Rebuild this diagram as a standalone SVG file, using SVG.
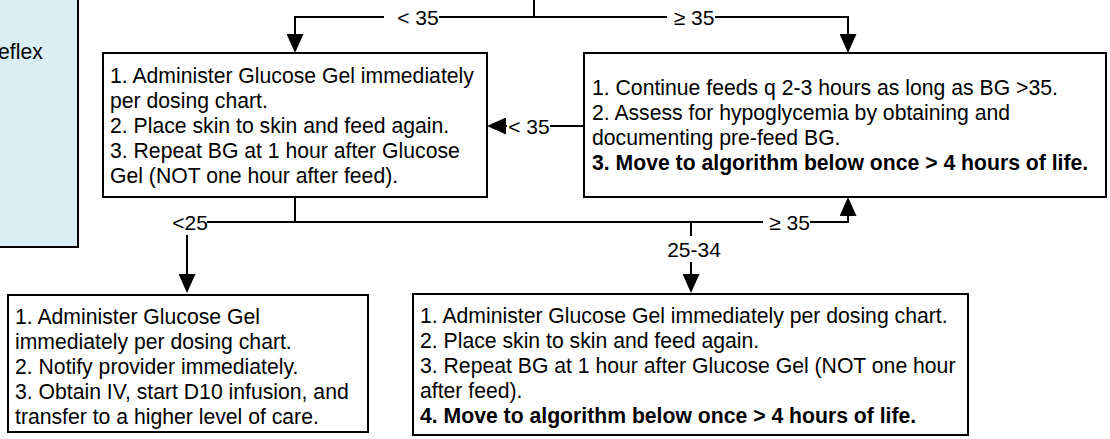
<svg xmlns="http://www.w3.org/2000/svg" width="1110" height="439" viewBox="0 0 1110 439">
  <style>
    .box { fill: #ffffff; stroke: #000000; stroke-width: 2; }
    .note { fill: #DAEEF3; stroke: #000000; stroke-width: 2; }
    .conn { fill: none; stroke: #000000; stroke-width: 2; }
    .bg { fill: #ffffff; stroke: none; }
    .t { font-family: "Liberation Sans", Arial, sans-serif; font-size: 21.2px; fill: #000000; }
    .b { font-weight: bold; }
    .lbl { text-anchor: middle; font-size: 21px; }
  </style>
  <defs>
    <marker id="arrow" viewBox="0 0 19 17" refX="16" refY="8.5" markerWidth="19" markerHeight="17" orient="auto" markerUnits="userSpaceOnUse">
      <path d="M0,0 L19,8.5 L0,17 z" fill="#000000"/>
    </marker>
  </defs>

  <!-- side note panel, partly off-canvas -->
  <g id="note">
    <rect class="note" x="-10" y="-10" width="88" height="257"/>
    <text class="t" x="-2" y="59">eflex</text>
  </g>

  <!-- BG below 35: gel and re-check -->
  <g id="gel-recheck">
    <rect class="box" x="103" y="53" width="384" height="144"/>
    <text class="t" x="110" y="82.5">
      <tspan x="110" y="82.5">1. Administer Glucose Gel immediately</tspan>
      <tspan x="110" y="107.5">per dosing chart.</tspan>
      <tspan x="110" y="132.5">2. Place skin to skin and feed again.</tspan>
      <tspan x="110" y="157.5">3. Repeat BG at 1 hour after Glucose</tspan>
      <tspan x="110" y="182.5">Gel (NOT one hour after feed).</tspan>
    </text>
  </g>

  <!-- BG at or above 35: continue feeds -->
  <g id="continue-feeds">
    <rect class="box" x="584" y="53" width="522" height="144"/>
    <text class="t" x="592" y="95">
      <tspan x="592" y="95">1. Continue feeds q 2-3 hours as long as BG &gt;35.</tspan>
      <tspan x="592" y="120">2. Assess for hypoglycemia by obtaining and</tspan>
      <tspan x="592" y="145">documenting pre-feed BG.</tspan>
      <tspan class="b" x="592" y="170">3. Move to algorithm below once &gt; 4 hours of life.</tspan>
    </text>
  </g>

  <!-- BG below 25: escalate care -->
  <g id="escalate">
    <rect class="box" x="8" y="295" width="360" height="137"/>
    <text class="t" x="15" y="324">
      <tspan x="15" y="324">1. Administer Glucose Gel</tspan>
      <tspan x="15" y="349">immediately per dosing chart.</tspan>
      <tspan x="15" y="374">2. Notify provider immediately.</tspan>
      <tspan x="15" y="399">3. Obtain IV, start D10 infusion, and</tspan>
      <tspan x="15" y="424">transfer to a higher level of care.</tspan>
    </text>
  </g>

  <!-- BG 25-34: second gel dose -->
  <g id="second-gel">
    <rect class="box" x="413" y="294" width="555" height="141"/>
    <text class="t" x="420" y="323">
      <tspan x="420" y="323">1. Administer Glucose Gel immediately per dosing chart.</tspan>
      <tspan x="420" y="348">2. Place skin to skin and feed again.</tspan>
      <tspan x="420" y="373">3. Repeat BG at 1 hour after Glucose Gel (NOT one hour</tspan>
      <tspan x="420" y="398">after feed).</tspan>
      <tspan class="b" x="420" y="423">4. Move to algorithm below once &gt; 4 hours of life.</tspan>
    </text>
  </g>

  <!-- connectors and their labels -->
  <g id="connectors">
    <path class="conn" d="M534,0 V17 H295 V50" marker-end="url(#arrow)"/>
    <path class="conn" d="M534,17 H848 V50" marker-end="url(#arrow)"/>
    <path class="conn" d="M584,126 H490" marker-end="url(#arrow)"/>
    <path class="conn" d="M295,197 V222 H187 V290" marker-end="url(#arrow)"/>
    <path class="conn" d="M295,222 H691 V290" marker-end="url(#arrow)"/>
    <path class="conn" d="M295,222 H848 V200" marker-end="url(#arrow)"/>

    <rect class="bg" x="384" y="8" width="55" height="19"/>
    <text class="t lbl" x="418" y="24.5">&lt; 35</text>
    <rect class="bg" x="667" y="8" width="48" height="19"/>
    <text class="t lbl" x="694" y="24.5">≥ 35</text>
    <rect class="bg" x="507" y="116" width="43" height="20"/>
    <text class="t lbl" x="529" y="133.5">&lt; 35</text>
    <rect class="bg" x="170" y="212" width="37" height="23"/>
    <text class="t lbl" x="190" y="229.5">&lt;25</text>
    <rect class="bg" x="665" y="236" width="58" height="26"/>
    <text class="t lbl" x="694" y="256.5">25-34</text>
    <rect class="bg" x="763" y="213" width="47" height="19"/>
    <text class="t lbl" x="789.5" y="229.5">≥ 35</text>
  </g>
</svg>
